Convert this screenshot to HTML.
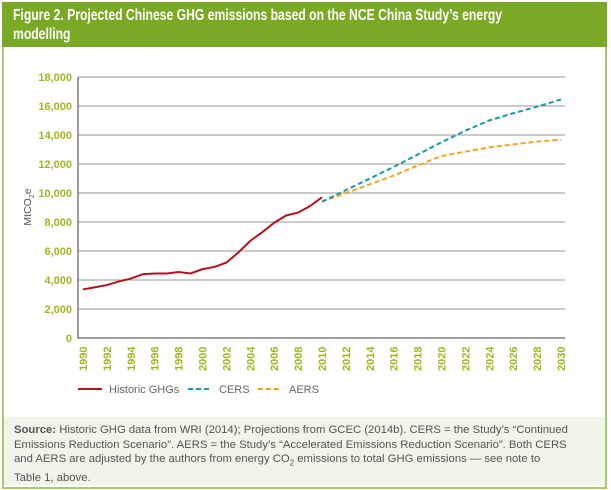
<!DOCTYPE html>
<html><head><meta charset="utf-8"><style>
body{margin:0;width:611px;height:490px;background:#fff;font-family:"Liberation Sans",sans-serif;overflow:hidden}
#frame{position:absolute;left:2px;top:2px;width:601px;height:483px;border:2px solid #a8cc6c}
#hdr{position:absolute;left:2px;top:2px;width:605px;height:45px;background:#79a925;color:#fff;box-sizing:border-box}
#hdr span{position:absolute;left:11px;top:4px;width:720px;font-size:15.5px;font-weight:bold;line-height:19px;transform:scaleX(0.785);transform-origin:0 0}
#foot{position:absolute;left:4px;top:417px;width:601px;height:68px;background:#f1f4e8;color:#555;font-size:11.3px;line-height:14.6px;padding:6px 4px 0 10px;box-sizing:border-box;white-space:nowrap}
</style></head><body>
<div id="frame"></div>
<div id="hdr"><span>Figure 2. Projected Chinese GHG emissions based on the NCE China Study’s energy<br>modelling</span></div>
<svg id="chart" width="611" height="490" style="position:absolute;left:0;top:0"></svg>
<div id="foot"><b>Source:</b> Historic GHG data from WRI (2014); Projections from GCEC (2014b). CERS = the Study’s “Continued<br>Emissions Reduction Scenario”. AERS = the Study’s “Accelerated Emissions Reduction Scenario”. Both CERS<br>and AERS are adjusted by the authors from energy CO<sub style="font-size:8px">2</sub> emissions to total GHG emissions — see note to<br>Table 1, above.</div>
<script>
const yTicks=[0,2000,4000,6000,8000,10000,12000,14000,16000,18000];
const xTicks=[1990,1992,1994,1996,1998,2000,2002,2004,2006,2008,2010,2012,2014,2016,2018,2020,2022,2024,2026,2028,2030];
const histYears=[1990,1991,1992,1993,1994,1995,1996,1997,1998,1999,2000,2001,2002,2003,2004,2005,2006,2007,2008,2009,2010];
const histValues=[3350,3500,3650,3900,4100,4400,4450,4450,4550,4450,4750,4900,5200,5900,6700,7300,7950,8450,8650,9100,9700];
const projYears=[2010,2012,2014,2016,2018,2020,2022,2024,2026,2028,2030];
const cersValues=[9400,10200,11000,11800,12650,13500,14300,15000,15500,15950,16450];
const aersValues=[9400,10000,10600,11200,11900,12550,12850,13150,13350,13550,13680];
const NS="http://www.w3.org/2000/svg";
const svg=document.getElementById('chart');
const X=y=>83+(y-1990)*(561-83)/40;
const Y=v=>338-v*(338-77)/18000;
function mk(t,a){const e=document.createElementNS(NS,t);for(const k in a)e.setAttribute(k,a[k]);svg.appendChild(e);return e;}
yTicks.forEach(v=>{
  if(v>0){const g=mk('line',{x1:78,x2:565,y1:Y(v),y2:Y(v),stroke:'#aaa','stroke-width':1.2});
  
  }
  const t=mk('text',{x:72,y:Y(v)+4,'text-anchor':'end','font-size':11,'font-weight':'bold',fill:'#9cb81c'});
  t.textContent=v.toLocaleString('en-US');
  
  
});
const ax=mk('polyline',{points:`78,${Y(18000)} 78,338 565,338`,fill:'none',stroke:'#666','stroke-width':1.3});


xTicks.forEach(yr=>{
  const t=mk('text',{transform:`translate(${X(yr)+4},371) rotate(-90)`,'font-size':11,'font-weight':'bold',fill:'#9cb81c'});
  t.textContent=yr;
  
  
});
const yt=mk('text',{transform:`translate(31,207) rotate(-90)`,'text-anchor':'middle','font-size':10.5,fill:'#555'});
yt.innerHTML='MtCO<tspan font-size="7" dy="3">2</tspan><tspan dy="-3">e</tspan>';


function line(xs,vs,col,dash,name){
  const p=mk('polyline',{points:xs.map((x,i)=>X(x)+','+Y(vs[i])).join(' '),fill:'none',stroke:col,'stroke-width':2,'stroke-dasharray':dash||'none'});
  
  
}
line(projYears,aersValues,'#f5a31a','5 3','aers-line');
line(projYears,cersValues,'#1b9aaa','5 3','cers-line');
line(histYears,histValues,'#b3141c',null,'historic-line');
const leg=[['Historic GHGs','#b3141c',null,78],['CERS','#1b9aaa','5 3',188],['AERS','#f5a31a','5 3',258]];
leg.forEach(l=>{
  const s=mk('line',{x1:l[3],x2:l[3]+24,y1:389,y2:389,stroke:l[1],'stroke-width':2,'stroke-dasharray':l[2]||'none'});
  
  
  const t=mk('text',{x:l[3]+31,y:393,'font-size':11,fill:'#666'});
  t.textContent=l[0];
  
  
});
</script>
</body></html>
